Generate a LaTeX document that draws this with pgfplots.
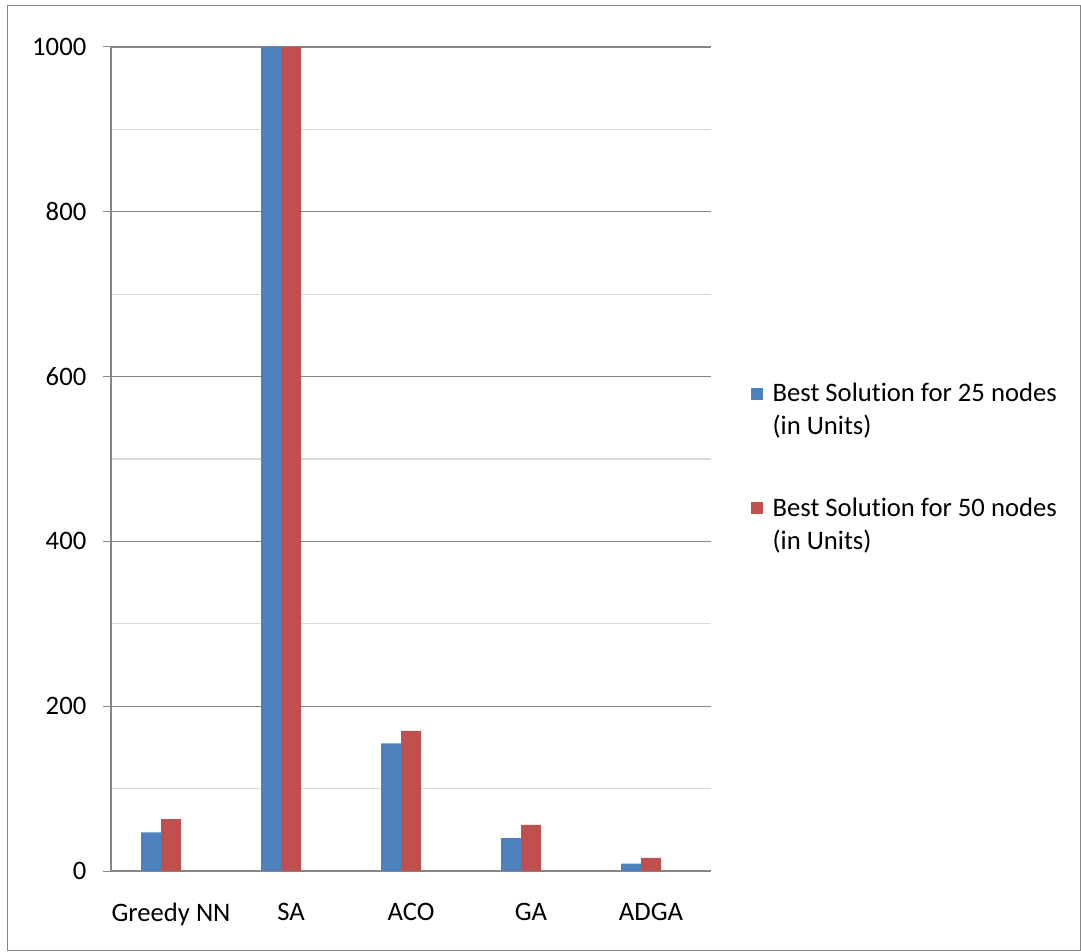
\documentclass[border=0pt]{standalone}
\usepackage{pgfplots}
\pgfplotsset{compat=1.18}
\usepackage{fontspec}
\setmainfont{Carlito}[Ligatures={NoCommon,NoContextual}, RawFeature={-liga;-clig;-dlig;-calt}]
\definecolor{sblue}{HTML}{4F81BD}
\definecolor{sred}{HTML}{C0504D}
\definecolor{gmaj}{HTML}{868686}
\definecolor{gmin}{HTML}{D9D9D9}
\begin{document}
\begin{tikzpicture}
\useasboundingbox (0,0) rectangle (810.75pt,713.25pt);
\draw[gmaj, line width=0.75pt] (5.25pt,0.4pt) rectangle (810.35pt,708.75pt);
\begin{axis}[
  at={(83.25pt,60pt)}, anchor=south west,
  scale only axis, width=450pt, height=618pt,
  ybar, bar width=15pt,
  xmin=-0.5, xmax=4.5, ymin=0, ymax=1000,
  xtick={0,1,2,3,4},
  xticklabels={Greedy NN,SA,ACO,GA,ADGA},
  ytick={0,200,400,600,800,1000},
  minor ytick={100,300,500,700,900},
  ymajorgrids, yminorgrids,
  major grid style={gmaj, line width=0.9pt},
  minor grid style={gmin, line width=0.9pt},
  axis x line*=bottom, axis y line*=left,
  axis line style={gmaj, line width=1pt, -},
  x axis line style={-},
  y axis line style={-},
  tick align=outside,
  major tick length=6pt, minor tick length=0pt,
  xtick style={draw=none},
  ytick style={gmaj, line width=0.75pt},
  tick label style={font=\fontsize{20}{24}\selectfont, text=black},
  /pgf/number format/assume math mode=true,
  /pgf/number format/1000 sep={},
  yticklabel style={xshift=-9pt},
  xticklabel style={yshift=-14.5pt},
  legend style={at={(1.06,0.49)}, anchor=west, draw=none, fill=none,
    font=\fontsize{20}{25}\selectfont, row sep=41.5pt,
    cells={anchor=west, align=left}},
  legend image code/.code={\path (0pt,-16.5pt) (14pt,16.5pt);
    \fill[#1] (0pt,7.5pt) rectangle (9pt,16.5pt);},
  clip=false,
]
\addplot[fill=sblue, draw=none, bar shift=-15pt] coordinates {(0,47) (1,1000) (2,155) (3,40) (4,9)};
\addlegendentry{Best Solution for 25 nodes\\(in Units)}
\addplot[fill=sred, draw=none, bar shift=0pt] coordinates {(0,63) (1,1000) (2,170) (3,56) (4,16)};
\addlegendentry{Best Solution for 50 nodes\\(in Units)}
\end{axis}
\end{tikzpicture}
\end{document}
